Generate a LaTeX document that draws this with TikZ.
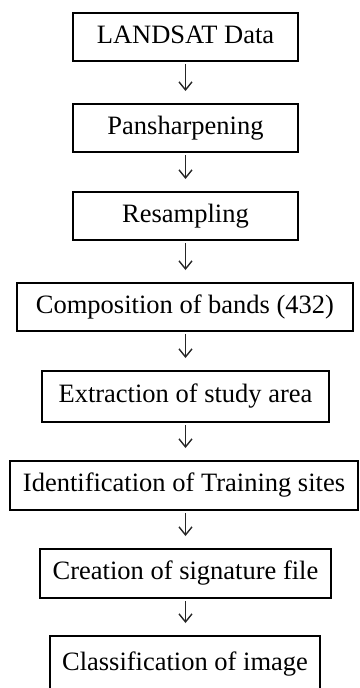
\documentclass[tikz,border=0pt]{standalone}
\usepackage{fontspec}
\setmainfont{Liberation Serif}
\usetikzlibrary{arrows.meta}
\begin{document}
\begin{tikzpicture}[x=1pt,y=-1pt,
  stepbox/.style={draw=black, line width=2.4pt, inner sep=0pt, outer sep=0pt,
    font=\fontsize{26.5}{30}\selectfont, text height=18pt, text depth=5.8pt,
    minimum height=48pt},
  flow/.style={line width=1.4pt, draw=black!85,
    -{Straight Barb[length=8pt,width=13pt,line width=1.4pt]},
    shorten <=3pt, shorten >=13pt}]
\useasboundingbox (0,0) rectangle (359,688);
\clip (0,0) rectangle (359,688);
\node[stepbox, minimum width=225pt] (b1) at (185.5,37) {LANDSAT Data};
\node[stepbox, minimum width=225pt] (b2) at (185.5,128) {Pansharpening};
\node[stepbox, minimum width=225pt] (b3) at (185.5,216) {Resampling};
\node[stepbox, minimum width=336pt] (b4) at (185,307) {Composition of bands (432)};
\node[stepbox, minimum width=287pt, minimum height=51pt] (b5) at (185.5,396.5) {Extraction of study area};
\node[stepbox, minimum width=348pt, minimum height=49pt] (b6) at (184,485.5) {Identification of Training sites};
\node[stepbox, minimum width=291pt, minimum height=49pt] (b7) at (185.5,573.5) {Creation of signature file};
\node[stepbox, minimum width=270pt, minimum height=56pt] (b8) at (185,664) {Classification of image};
\draw[flow] (b1.south) -- (b1.south |- b2.north);
\draw[flow] (b2.south) -- (b2.south |- b3.north);
\draw[flow] (b3.south) -- (b3.south |- b4.north);
\draw[flow] (b3.south |- b4.south) -- (b3.south |- b5.north);
\draw[flow] (b3.south |- b5.south) -- (b3.south |- b6.north);
\draw[flow] (b3.south |- b6.south) -- (b3.south |- b7.north);
\draw[flow] (b7.south) -- (b7.south |- b8.north);
\end{tikzpicture}
\end{document}
